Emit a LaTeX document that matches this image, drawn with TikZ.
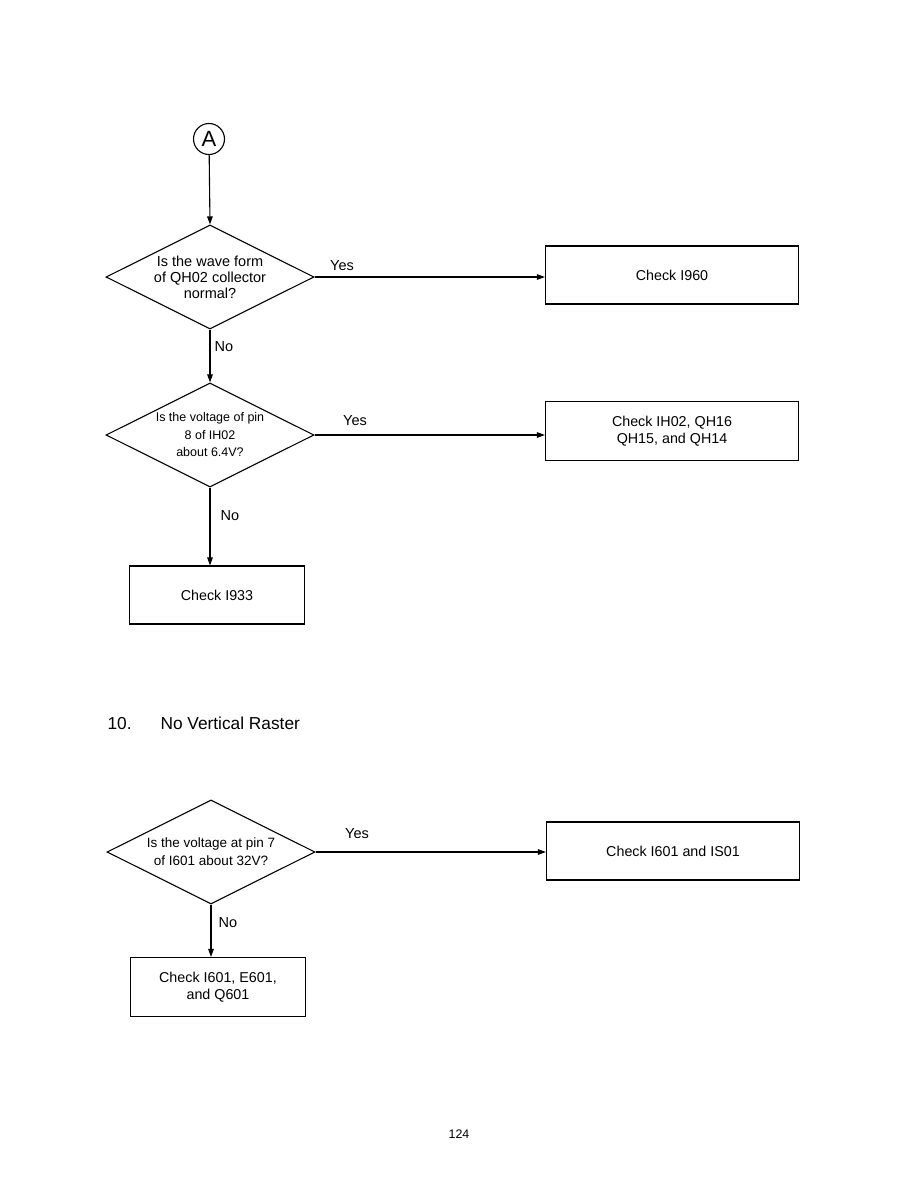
\documentclass[tikz,border=0pt]{standalone}
\usepackage{fontspec}
\setmainfont{Liberation Sans}
\usetikzlibrary{arrows.meta,shapes.geometric}

\tikzset{
    question/.style={diamond, draw, line width=1.1pt, aspect=2, inner sep=0pt,
        minimum width=208pt, minimum height=104pt, align=center},
    checkbox/.style={rectangle, draw, line width=1.1pt, minimum height=58pt,
        align=center, font=\fontsize{14.3}{16.7}\selectfont},
    flow/.style={line width=1.1pt, -{Triangle[length=8pt,width=5.5pt]}},
    answer/.style={font=\fontsize{14.5}{16}\selectfont},
}

\begin{document}
\begin{tikzpicture}[x=1pt, y=-1pt]
    \useasboundingbox (0,0) rectangle (918,1188);

    \node[circle, draw, line width=1.1pt, minimum size=31pt, inner sep=0pt,
        font=\fontsize{22}{22}\selectfont] (start) at (209,139) {A};
    \node[question, font=\fontsize{14.5}{16}\selectfont] (q1) at (210,277)
        {Is the wave form\\of QH02 collector\\normal?};
    \node[checkbox, minimum width=253pt] (c1) at (672,275) {Check I960};
    \node[question, font=\fontsize{12.5}{17.5}\selectfont] (q2) at (210,435)
        {Is the voltage of pin\\8 of IH02\\about 6.4V?};
    \node[checkbox, minimum width=253pt, minimum height=59pt] (c2) at (672,431)
        {Check IH02, QH16\\QH15, and QH14};
    \node[checkbox, minimum width=175pt] (c3) at (217,595) {Check I933};

    \node[anchor=base west, font=\fontsize{17.3}{20}\selectfont] (num) at (104,729) {10.};
    \node[anchor=base west, font=\fontsize{17.3}{20}\selectfont] (title) at (157,729)
        {No Vertical Raster};

    \node[question, font=\fontsize{13.5}{17.7}\selectfont] (q3) at (211,852)
        {Is the voltage at pin 7\\of I601 about 32V?};
    \node[checkbox, minimum width=253pt] (c4) at (673,851) {Check I601 and IS01};
    \node[checkbox, minimum width=175pt, minimum height=59pt] (c5) at (218,987)
        {Check I601, E601,\\and Q601};

    \node[answer] (y1) at (342,266) {Yes};
    \node[answer] (n1) at (224,347) {No};
    \node[answer] (y2) at (355,421) {Yes};
    \node[answer] (n2) at (230,516) {No};
    \node[answer] (y3) at (357,834) {Yes};
    \node[answer] (n3) at (228,923) {No};

    \node[font=\fontsize{12.4}{14}\selectfont] (page) at (459,1134) {124};

    \draw[flow] (start) -- (q1.north);
    \draw[flow] (q1.east) -- (q1.east -| c1.west);
    \draw[flow] (q1.south) -- (q2.north);
    \draw[flow] (q2.east) -- (q2.east -| c2.west);
    \draw[flow] (q2.south) -- (q2.south |- c3.north);
    \draw[flow] (q3.east) -- (q3.east -| c4.west);
    \draw[flow] (q3.south) -- (q3.south |- c5.north);
\end{tikzpicture}
\end{document}
